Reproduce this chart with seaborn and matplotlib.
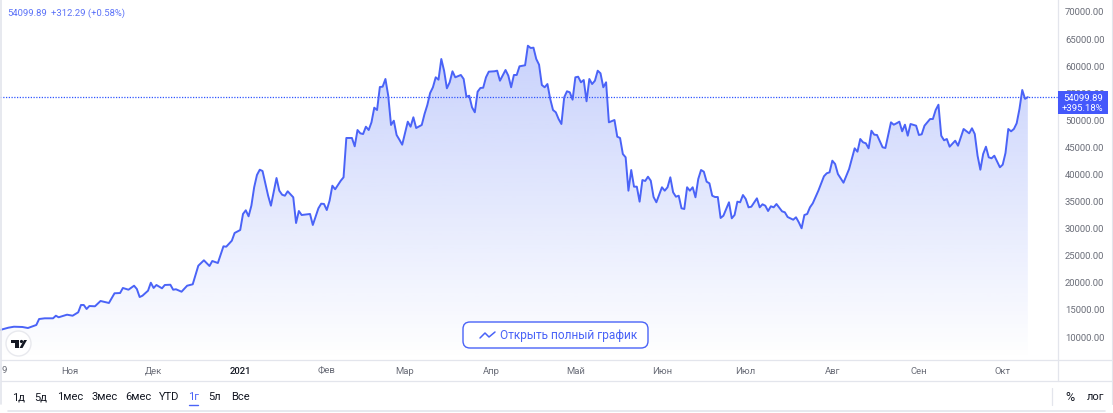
import matplotlib
matplotlib.use('Agg')
import matplotlib.pyplot as plt
import matplotlib.dates as mdates
from matplotlib.colors import to_rgb
from matplotlib.patches import Circle, FancyBboxPatch, Polygon, Rectangle
import numpy as np
import pandas as pd
import seaborn as sns

start_date = '2020-10-07'
days = [0, 3, 5, 8, 10, 13, 14, 16, 19, 20, 21, 24, 26, 28, 29, 30, 31, 32, 34, 36, 39, 41, 43, 44, 46, 48, 49, 50, 51, 53,
        54, 55, 56, 58, 59, 61, 62, 63, 65, 67, 69, 71, 73, 75, 76, 78, 80, 81, 83, 84, 86, 87, 88, 89, 90, 91, 92, 93, 94, 96,
        97, 99, 100, 101, 102, 103, 105, 106, 107, 108, 111, 112, 114, 115, 116, 117, 118, 119, 120, 122, 123, 124, 126, 127, 128, 129, 130, 131, 132, 133,
        134, 135, 136, 137, 138, 139, 140, 141, 142, 143, 144, 146, 147, 148, 149, 151, 152, 153, 154, 155, 156, 157, 158, 159, 160, 161, 162, 163, 165, 166,
        167, 168, 169, 170, 171, 172, 173, 174, 175, 177, 178, 179, 181, 182, 183, 184, 185, 186, 188, 189, 190, 191, 192, 193, 194, 195, 196, 197, 198, 199,
        200, 201, 202, 203, 204, 205, 206, 207, 208, 209, 210, 211, 212, 213, 214, 215, 216, 217, 218, 220, 221, 222, 223, 224, 225, 226, 227, 228, 229, 230,
        231, 232, 233, 234, 235, 237, 238, 239, 240, 241, 242, 243, 244, 245, 246, 247, 248, 249, 250, 251, 252, 253, 254, 255, 256, 257, 258, 259, 261, 262,
        263, 264, 265, 266, 267, 268, 269, 271, 272, 273, 274, 275, 276, 277, 278, 280, 281, 282, 284, 285, 286, 287, 288, 289, 290, 291, 293, 295, 296, 297,
        298, 299, 300, 302, 304, 306, 307, 308, 309, 310, 311, 312, 313, 314, 316, 317, 319, 320, 321, 322, 323, 324, 325, 326, 328, 329, 330, 331, 333, 334,
        335, 336, 337, 338, 339, 340, 342, 343, 345, 347, 348, 349, 350, 351, 352, 353, 354, 355, 356, 358, 359, 360, 361, 362, 363, 364, 365, 366, 367, 368]
prices = [11113, 11540, 11720, 11670, 11480, 12040, 13140, 13270, 13270, 13750, 13460, 13940, 13750, 14380, 15730, 15730, 14990, 15540, 15490, 16470, 16100, 17890, 17940, 18870, 18550, 19290, 18680, 17200, 17440, 18370,
          19840, 18870, 19420, 18810, 19420, 19470, 18550, 18630, 18180, 19290, 19550, 22980, 23980, 22930, 23850, 23480, 26560, 26490, 27600, 29020, 29570, 32530, 33210, 32100, 34060, 37460, 39730, 40700, 40460, 35900,
          34060, 39170, 36830, 36090, 35900, 36720, 35610, 30860, 33080, 32340, 32530, 30500, 33580, 34430, 34380, 33260, 34980, 37750, 37090, 38670, 39300, 46560, 46560, 45020, 48030, 47420, 47290, 48640, 48030, 49450,
          52150, 51720, 55970, 56030, 57450, 54360, 48960, 49750, 47110, 46240, 45320, 49570, 48640, 50380, 48400, 48960, 50990, 52650, 54860, 55920, 57760, 57320, 61140, 58980, 55730, 56840, 58870, 57760, 58190, 57450,
          54180, 54360, 52220, 51300, 55100, 55790, 55840, 57760, 58800, 58870, 58980, 57130, 59110, 58060, 55920, 58190, 58190, 59790, 59980, 63590, 63170, 63230, 61140, 60090, 56340, 55920, 56520, 53760, 51720, 51300,
          50060, 49140, 54070, 55180, 54990, 53630, 57760, 57870, 56840, 57260, 53330, 57450, 56520, 57130, 58980, 58500, 55920, 56840, 49450, 49880, 46800, 46560, 43600, 42990, 36830, 40650, 37570, 37570, 34800, 38800,
          38620, 39410, 38670, 35660, 34690, 37460, 36830, 37460, 39300, 36530, 35720, 35900, 33580, 33450, 37460, 36830, 37460, 35610, 38990, 40650, 40330, 38490, 38190, 35900, 35660, 35660, 31790, 32210, 34690, 31730,
          32340, 34800, 34690, 36030, 35300, 33760, 33870, 35420, 33760, 34320, 34060, 33080, 33950, 33760, 34370, 33020, 32840, 31970, 31470, 31920, 30990, 29890, 32340, 32530, 33760, 34500, 36830, 39490, 40040, 40220,
          42370, 41760, 39910, 38300, 40830, 44650, 44030, 46370, 45760, 45580, 44650, 47900, 47170, 47110, 44840, 44710, 49450, 49010, 49270, 49570, 47790, 49010, 46980, 49140, 48830, 47110, 47240, 48830, 50060, 50060,
          51720, 52700, 46980, 46130, 46370, 44950, 46060, 45130, 48220, 47420, 48350, 47290, 43290, 40700, 43600, 44950, 42990, 42810, 43290, 41150, 41630, 43790, 48220, 47790, 48220, 49270, 51910, 55420, 53787.6, 54099.89]

last_price = 54099.89
y_ticks = [10000, 15000, 20000, 25000, 30000, 35000, 40000, 45000, 50000, 55000, 60000, 65000, 70000]
month_starts = ['2020-11-01', '2020-12-01', '2021-01-01', '2021-02-01', '2021-03-01', '2021-04-01',
                '2021-05-01', '2021-06-01', '2021-07-01', '2021-08-01', '2021-09-01', '2021-10-01']
month_labels = ['Ноя', 'Дек', '2021', 'Фев', 'Мар', 'Апр', 'Май', 'Июн', 'Июл', 'Авг', 'Сен', 'Окт']
range_labels = ['1д', '5д', '1мес', '3мес', '6мес', 'YTD', '1г', '5л', 'Все']

W, H = 1113, 414
BLUE = '#4a63f7'
GRID = '#e3e5ec'
TEXT = '#131722'
GRAY = '#6a6d78'

sns.set_theme(style='white')
plt.rcParams['font.family'] = ['Roboto', 'DejaVu Sans']

df = pd.DataFrame({'date': pd.Timestamp(start_date) + pd.to_timedelta(days, unit='D'), 'price': prices})

fig = plt.figure(figsize=(W / 100, H / 100), dpi=100, facecolor='white')
ax = fig.add_axes([0, (H - 361) / H, 1058 / W, 361 / H])

sns.lineplot(data=df, x='date', y='price', ax=ax, color=BLUE, linewidth=1.4, zorder=4)

x0 = pd.Timestamp(start_date)
x1 = x0 + pd.Timedelta(days=378.8)
y_top, y_bot = 72215, 5575

# area gradient, clipped to the shape under the line
area = ax.fill_between(df['date'], df['price'], y_bot, color='none', linewidth=0)
grad = np.zeros((256, 1, 4))
grad[:, 0, :3] = to_rgb('#3a5cf5')
grad[:, 0, 3] = np.linspace(0.28, 0.0, 256)
im = ax.imshow(grad, aspect='auto', zorder=1, origin='upper',
               extent=[mdates.date2num(x0), mdates.date2num(x1), y_bot, 64000])
im.set_clip_path(area.get_paths()[0], transform=ax.transData)

ax.axhline(last_price, color='#2f55ff', linestyle=(0, (1, 1.2)), linewidth=0.9, zorder=3)

ax.set_xlim(x0, x1)
ax.set_ylim(y_bot, y_top)
ax.yaxis.tick_right()
ax.set_yticks(y_ticks)
ax.set_yticklabels([f'{v:.2f}' for v in y_ticks])
ax.set_xticks(pd.to_datetime(month_starts))
ax.set_xticklabels(month_labels)
ax.tick_params(axis='y', length=0, pad=5, labelsize=6.8, labelcolor=GRAY)
ax.tick_params(axis='x', length=0, pad=4, labelsize=6.8, labelcolor=GRAY)
ax.xaxis.get_ticklabels()[2].set_color(TEXT)
ax.xaxis.get_ticklabels()[2].set_fontweight('medium')
ax.set_xlabel('')
ax.set_ylabel('')
sns.despine(ax=ax, left=True, bottom=True, right=True, top=True)

# everything around the plot, in pixel coordinates
ov = fig.add_axes([0, 0, 1, 1], zorder=10)
ov.set_xlim(0, W)
ov.set_ylim(H, 0)
ov.axis('off')
ov.patch.set_alpha(0)

ov.plot([1, W - 1], [361, 361], color=GRID, lw=0.9)
ov.plot([1, W - 1], [382, 382], color=GRID, lw=0.9)
ov.plot([1058, 1058], [0, 382], color=GRID, lw=0.9)
ov.plot([1052, 1052], [389, 406], color=GRID, lw=0.9)
ov.plot([1, 1], [0, 405], color=GRID, lw=1.2)
ov.plot([8, W - 8], [412, 412], color=GRID, lw=1.2)
ov.plot([W - 1, W - 1], [0, 405], color=GRID, lw=0.8)

ov.text(7, 13.5, '54099.89', color=BLUE, fontsize=6.8, va='center', ha='left', alpha=0.9)
ov.text(51, 13.5, '+312.29 (+0.58%)', color=BLUE, fontsize=6.8, va='center', ha='left', alpha=0.9)
ov.text(2, 370.5, '9', color=GRAY, fontsize=6.8, va='center', ha='left')

ov.add_patch(Rectangle((1058, 92), 50, 23, facecolor='#4458fb', edgecolor='none', zorder=5))
ov.text(1103, 98.5, '54099.89', color='white', fontsize=6.8, ha='right', va='center', zorder=6)
ov.text(1103, 109, '+395.18%', color='white', fontsize=6.8, ha='right', va='center', zorder=6)

# button
ov.add_patch(FancyBboxPatch((463, 323), 185, 26, boxstyle='round,pad=0,rounding_size=7',
                            facecolor='white', edgecolor=BLUE, linewidth=1.0, zorder=5))
ov.plot([480, 485, 489, 495], [339, 334, 338, 333], color=BLUE, lw=1.1, zorder=6)
ov.text(500, 336, 'Открыть полный график', color=BLUE, fontsize=8.6, va='center', ha='left', zorder=6)

# logo
ov.add_patch(Circle((18.5, 344.5), 12.5, facecolor='white', edgecolor='#e8e9ee', linewidth=1.0, zorder=5))
ov.add_patch(Rectangle((11, 341), 8, 3, facecolor=TEXT, edgecolor='none', zorder=6))
ov.add_patch(Rectangle((15, 341), 4, 8, facecolor=TEXT, edgecolor='none', zorder=6))
ov.add_patch(Circle((21.5, 342.5), 1.6, facecolor=TEXT, edgecolor='none', zorder=6))
ov.add_patch(Polygon([(24, 341), (27, 341), (22.5, 349), (19.5, 349)], facecolor=TEXT, edgecolor='none', zorder=6))

# range buttons
range_x = [12.5, 34.5, 57, 91, 125, 159, 188.5, 208.5, 231]
for lab, xp in zip(range_labels, range_x):
    ov.text(xp, 397.5, lab, color=BLUE if lab == '1г' else TEXT, fontsize=8, va='center', ha='left')
ov.plot([189, 198], [406, 406], color=BLUE, lw=1.0)
ov.text(1065, 397.5, '%', color=TEXT, fontsize=9, va='center', ha='left')
ov.text(1087, 397.5, 'лог', color=TEXT, fontsize=8, va='center', ha='left')

fig.savefig('out.png', dpi=100, facecolor='white')
